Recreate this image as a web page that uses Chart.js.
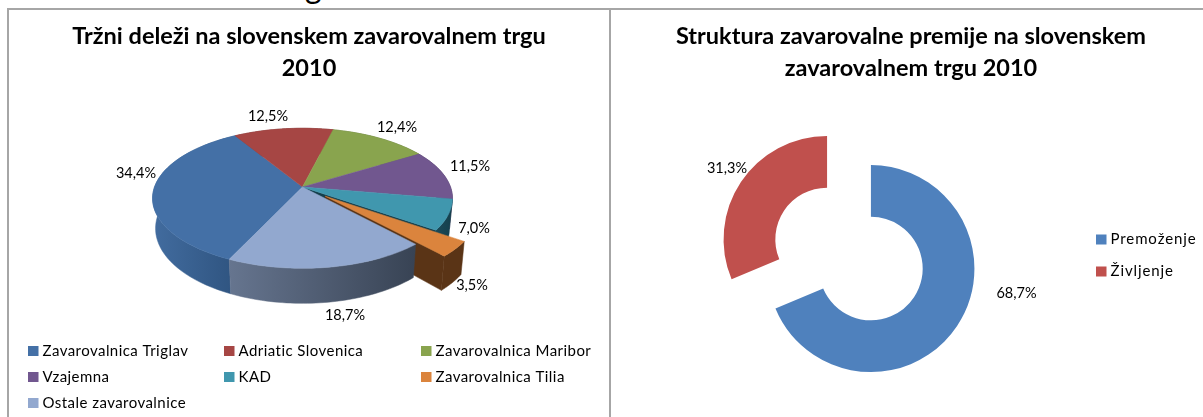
<!DOCTYPE html>
<html lang="sl">
<head>
<meta charset="utf-8">
<title>Zavarovalni trg 2010</title>
<script src="https://cdn.jsdelivr.net/npm/chart.js@4"></script>
<style>
html,body{margin:0;padding:0;background:#fff;width:1203px;height:417px;overflow:hidden;position:relative}
canvas{position:absolute;display:block}
.rule{position:absolute;background:#a6a6a6}
#cut{position:absolute;left:305px;top:-32px;font:32px Lato,sans-serif;color:#000;line-height:36px}
</style>
</head>
<body>
<div id="cut">g</div>
<div class="rule" style="left:7px;top:8px;width:602px;height:2px"></div>
<div class="rule" style="left:611px;top:8px;width:592px;height:2px"></div>
<div class="rule" style="left:7px;top:8px;width:2px;height:409px"></div>
<div class="rule" style="left:609px;top:8px;width:2px;height:409px"></div>
<canvas id="shares" width="602" height="417" style="left:8px;top:0"></canvas>
<canvas id="premium" width="600" height="508" style="left:611px;top:0"></canvas>
<script>
const shareCategories = ['Zavarovalnica Triglav','Adriatic Slovenica','Zavarovalnica Maribor','Vzajemna','KAD','Zavarovalnica Tilia','Ostale zavarovalnice'];
const shareValues = [34.4,12.5,12.4,11.5,7.0,3.5,18.7];
const shareLabels = ['34,4%','12,5%','12,4%','11,5%','7,0%','3,5%','18,7%'];
const shareExplode = [0,0,0,0,0,0.2,0];
const premiumCategories = ['Premoženje','Življenje'];
const premiumValues = [68.7,31.3];
const premiumLabels = ['68,7%','31,3%'];
const premiumExplode = [26.35,26.35];

const FONT = 'Lato, sans-serif';
const shareTop = ['#4470a6','#a64644','#89a44e','#71578f','#4097ae','#db843d','#92a8cf'];
const shareWallA = ['#426c9f','#6e2e2d','#5c6e34','#4b3a60','#1b4a58','#5a3416','#66758f'];
const shareWallB = ['#2f5480','#6e2e2d','#5c6e34','#4b3a60','#153f4c','#5a3416','#384354'];
const premiumColors = ['#4f81bd','#c0504d'];

// data labels, grid legend and optional free-standing title; positions are page pixels
const annotate = {
  id:'annotate',
  afterDraw(chart, _a, o){
    const ctx = chart.ctx;
    ctx.save();
    ctx.textBaseline = 'middle';
    ctx.fillStyle = '#000';
    if(o.title){
      ctx.font = 'bold 23.5px ' + FONT;
      ctx.textAlign = 'center';
      o.title.forEach((t,i)=>ctx.fillText(t, o.titleAt[0]-o.dx, o.titleAt[1]+i*32));
    }
    ctx.font = '14.5px ' + FONT;
    ctx.textAlign = 'center';
    ctx.letterSpacing = '0px';
    o.labels.forEach((t,i)=>ctx.fillText(t, o.labelAt[i][0]-o.dx, o.labelAt[i][1]));
    ctx.font = '15px ' + FONT;
    ctx.textAlign = 'left';
    ctx.letterSpacing = o.legendSpacing;
    chart.data.labels.forEach((t,i)=>{
      const [x,y] = o.legendAt[i];
      ctx.fillStyle = chart.data.datasets[0].backgroundColor[i];
      ctx.fillRect(x-o.dx, y-5, 10.5, 10);
      ctx.fillStyle = '#000';
      ctx.fillText(t, x-o.dx+14.5, y);
    });
    ctx.restore();
  }
};

// tilted 3-D rendering of the pie from the arc angles the library computed
const tilted = {
  id:'tilted',
  beforeDatasetsDraw(chart, _a, o){
    const ctx = chart.ctx, arcs = chart.getDatasetMeta(0).data;
    const topPt = (X,Y)=>{const w=1-o.k*Y;return [o.cx+o.rx*X/w, o.cy+o.ry*Y/w];};
    const botPt = (X,Y)=>{const w=1-o.k*Y;return [o.cx+o.shrink*o.rx*X/w, o.cy+(o.ry*Y+o.depth)/w];};
    const poly = (pts,fill)=>{
      ctx.beginPath();
      pts.forEach((p,i)=>i?ctx.lineTo(p[0],p[1]):ctx.moveTo(p[0],p[1]));
      ctx.closePath(); ctx.fillStyle=fill; ctx.fill();
      ctx.strokeStyle=fill; ctx.lineWidth=0.5; ctx.stroke();
    };
    const slices = arcs.map((a,i)=>{
      const mid=(a.startAngle+a.endAngle)/2, e=shareExplode[i];
      const ox=Math.cos(mid)*e, oy=Math.sin(mid)*e, rim=[];
      for(let s=0;s<=48;s++){
        const t=a.startAngle+(a.endAngle-a.startAngle)*s/48;
        rim.push([ox+Math.cos(t), oy+Math.sin(t)]);
      }
      return {i,e,ox,oy,rim,my:Math.sin(mid)};
    });
    const topFace = s => poly([topPt(s.ox,s.oy),...s.rim.map(p=>topPt(p[0],p[1]))], shareTop[s.i]);
    const endFace = s => {
      const last=s.rim[s.rim.length-1];
      poly([topPt(s.ox,s.oy),topPt(last[0],last[1]),botPt(last[0],last[1]),botPt(s.ox,s.oy)], shareWallB[s.i]);
    };
    [...slices].sort((a,b)=>a.my-b.my).forEach(s=>{
      const t=s.rim.map(p=>topPt(p[0],p[1])), b=s.rim.map(p=>botPt(p[0],p[1])).reverse();
      const xs=t.map(p=>p[0]);
      const g=ctx.createLinearGradient(Math.min(...xs),0,Math.max(...xs),0);
      g.addColorStop(0,shareWallA[s.i]); g.addColorStop(1,shareWallB[s.i]);
      if(s.e || shareExplode[s.i+1]) endFace(s);
      poly([...t,...b], g);
      if(s.e) topFace(s);
    });
    slices.filter(s=>!s.e).forEach(topFace);
    return false;
  }
};

// moves each library arc outward along its mid-angle without changing its radius
const explode = {
  id:'explode',
  beforeDatasetsDraw(chart){
    const ctx = chart.ctx;
    chart.getDatasetMeta(0).data.forEach((a,i)=>{
      const mid=(a.startAngle+a.endAngle)/2;
      ctx.save();
      ctx.translate(Math.cos(mid)*premiumExplode[i], Math.sin(mid)*premiumExplode[i]);
      a.draw(ctx);
      ctx.restore();
    });
    return false;
  }
};

new Chart(document.getElementById('shares'),{
  type:'pie',
  data:{labels:shareCategories,datasets:[{data:shareValues,backgroundColor:shareTop,borderWidth:0}]},
  plugins:[tilted,annotate],
  options:{
    responsive:false,animation:false,rotation:205,
    plugins:{
      legend:{display:false},tooltip:{enabled:false},
      title:{display:true,text:['Tržni deleži na slovenskem zavarovalnem trgu','2010'],color:'#000',
        font:{family:FONT,size:23.5,weight:'bold',lineHeight:1.362},padding:{top:20,bottom:0}},
      tilted:{cx:294.5,cy:187,rx:148,ry:68.2,k:0.161,depth:29.4,shrink:0.98},
      annotate:{
        dx:8,labels:shareLabels,legendSpacing:'0.45px',
        labelAt:[[136,173],[268,116],[397,127],[470,166],[474,228],[472,285],[345,315]],
        legendAt:[[28,351],[224,351],[421,351],[28,377],[224,377],[421,377],[28,403]]
      }
    }
  }
});

new Chart(document.getElementById('premium'),{
  type:'doughnut',
  data:{labels:premiumCategories,datasets:[{data:premiumValues,backgroundColor:premiumColors,borderWidth:0}]},
  plugins:[explode,annotate],
  options:{
    responsive:false,animation:false,rotation:0,cutout:'50%',radius:103.5,
    layout:{padding:{right:124}},
    plugins:{
      legend:{display:false},tooltip:{enabled:false},
      title:{display:false},
      annotate:{
        dx:611,labels:premiumLabels,legendSpacing:'0.9px',
        title:['Struktura zavarovalne premije na slovenskem','zavarovalnem trgu 2010'],titleAt:[911,36],
        labelAt:[[1016.5,293],[727,168]],
        legendAt:[[1096,239.5],[1096,271.5]]
      }
    }
  }
});
</script>
</body>
</html>
